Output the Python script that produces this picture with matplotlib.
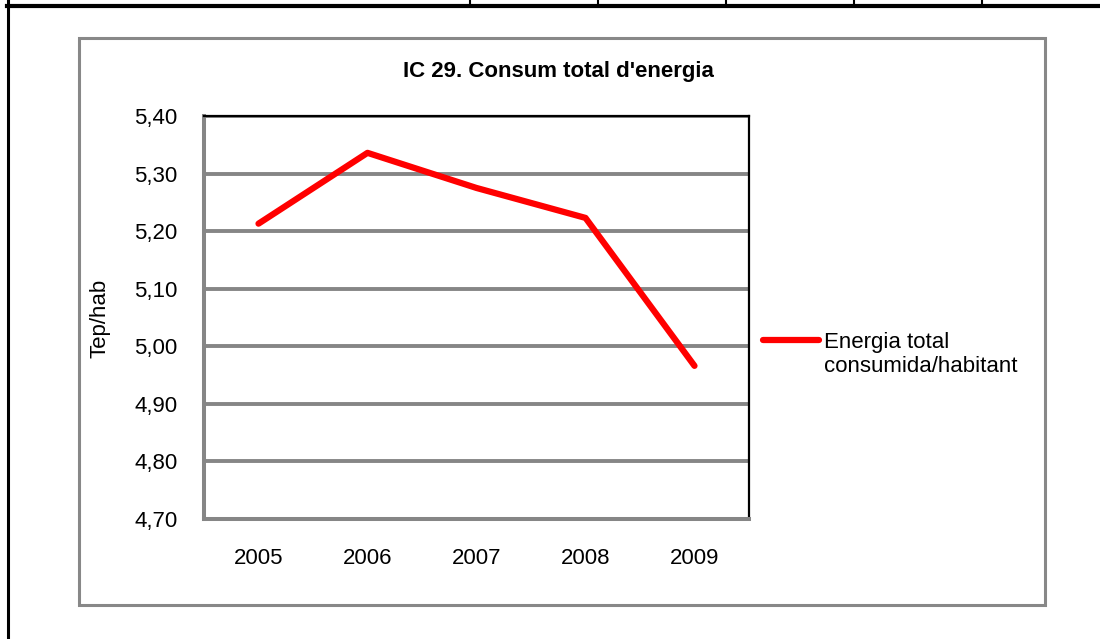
import matplotlib
matplotlib.use("Agg")
import numpy as np
from matplotlib import pyplot as plt
from matplotlib.lines import Line2D
from matplotlib.patches import Rectangle
from matplotlib.ticker import FuncFormatter, MultipleLocator

plt.rcParams['font.family'] = ['Liberation Sans', 'DejaVu Sans']

# data
years = ['2005', '2006', '2007', '2008', '2009']
energy = [5.213, 5.336, 5.275, 5.223, 4.966]
series_name = 'Energia total\nconsumida/habitant'
title = "IC 29. Consum total d'energia"
ylabel = 'Tep/hab'

W, H = 1100, 639
fig = plt.figure(figsize=(W / 100, H / 100), dpi=100)


def px(x, y):
    # pixel coords (top-left origin) -> figure fraction
    return x / W, 1 - y / H


# document table borders around the chart
fig.add_artist(Line2D([7 / W, 1], [1 - 5.5 / H] * 2, color='black', lw=3, transform=fig.transFigure))
fig.add_artist(Line2D([8 / W] * 2, [0, 1], color='black', lw=2.2, transform=fig.transFigure))
for xv in [470, 598, 726, 854, 982]:
    fig.add_artist(Line2D([xv / W] * 2, [1 - 5 / H, 1], color='black', lw=1.5, transform=fig.transFigure))

# chart area frame
fig.add_artist(Rectangle(px(79, 605), (1045 - 79) / W, (605 - 38) / H, fill=False,
                         edgecolor='#888888', lw=2.2, transform=fig.transFigure))

left, right, top, bottom = 204, 749, 116, 519
ax = fig.add_axes([left / W, 1 - bottom / H, (right - left) / W, (bottom - top) / H])

x = np.arange(len(years))
ax.plot(x, energy, color='#ff0000', lw=4.5, solid_capstyle='round',
        solid_joinstyle='round', label=series_name, zorder=3)

ax.set_xlim(-0.5, len(years) - 0.5)
ax.set_ylim(4.70, 5.40)
ax.yaxis.set_major_locator(MultipleLocator(0.1))
ax.yaxis.set_major_formatter(FuncFormatter(lambda v, p: f'{v:.2f}'.replace('.', ',')))
ax.set_xticks(x)
ax.set_xticklabels(years)
ax.tick_params(axis='y', length=0, pad=19, labelsize=16)
ax.tick_params(axis='x', length=0, pad=21, labelsize=16)

ax.grid(axis='y', color='#868686', lw=2.8)
ax.set_axisbelow(True)
ax.spines['top'].set_color('black')
ax.spines['top'].set_linewidth(1.6)
ax.spines['right'].set_color('black')
ax.spines['right'].set_linewidth(1.6)
ax.spines['left'].set_color('#868686')
ax.spines['left'].set_linewidth(2.9)
ax.spines['bottom'].set_color('#868686')
ax.spines['bottom'].set_linewidth(2.9)

fig.text(*px(100, 318), ylabel, rotation=90, ha='center', va='center', fontsize=16)
fig.text(*px(558, 71), title, ha='center', va='center', fontsize=16, fontweight='bold')

leg = ax.legend(loc='upper left', bbox_to_anchor=px(763, 332), bbox_transform=fig.transFigure,
                frameon=False, fontsize=16, handlelength=2.5, handletextpad=0.25,
                borderpad=0, borderaxespad=0, labelspacing=0)
# put the legend line next to the first text line, like Excel does
for entry in leg._legend_handle_box.get_children():
    for row in entry.get_children():
        row.align = 'top'

fig.savefig('out.png', dpi=100)
